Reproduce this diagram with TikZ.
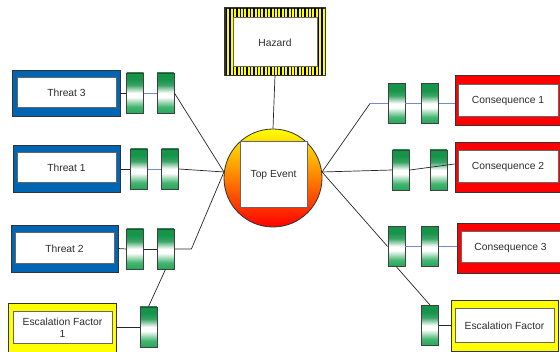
\documentclass[tikz,border=0pt]{standalone}
\usepackage{fontspec}
\setmainfont{Liberation Sans}
\usepackage{xcolor}

\definecolor{threatblue}{RGB}{0,102,179}
\definecolor{consred}{RGB}{255,0,0}
\definecolor{escyellow}{RGB}{255,255,0}
\definecolor{bgtop}{RGB}{22,148,74}
\definecolor{bgbot}{RGB}{36,168,88}
\definecolor{linkblue}{RGB}{112,140,210}
\definecolor{txtgray}{RGB}{45,45,45}

\pgfdeclareverticalshading{barriershade}{100bp}{color(0bp)=(bgbot); color(25bp)=(bgbot);
  color(33bp)=(bgbot!85); color(45bp)=(white); color(50bp)=(white); color(60bp)=(bgtop!85);
  color(67bp)=(bgtop); color(100bp)=(bgtop)}

\begin{document}
\begin{tikzpicture}[x=1pt,y=-1pt,
  frame/.style={draw=black!80, line width=0.8pt, inner sep=0pt},
  inbox/.style={draw=black!60, line width=1pt, fill=white, inner sep=0pt, text=txtgray,
    font=\fontsize{10.3}{12}\selectfont, align=center},
  barrier/.style={draw=black!75, line width=0.8pt, minimum width=17pt, minimum height=40pt,
    inner sep=0pt, shade, shading=barriershade},
  link/.style={draw=black!85, line width=0.7pt},
  blink/.style={draw=linkblue, line width=0.8pt}]
\useasboundingbox (0,0) rectangle (560,352);

% hazard box with the striped frame
\node[frame, fill=escyellow, minimum width=100pt, minimum height=67pt] (hazard) at (275,41.5) {};
\begin{scope}
\clip (hazard.south west) rectangle (hazard.north east);
\foreach \i in {0,...,29}
  \fill[black] (225.9+\i*3.4,8) rectangle ++(1.5,67);
\end{scope}
\draw[black!80, line width=0.8pt] (hazard.south west) rectangle (hazard.north east);
\node[inbox, minimum width=84pt, minimum height=49pt] (hazardin) at (275,42.5) {Hazard};

% top event
\node[circle, draw=black!80, line width=0.8pt, minimum size=98pt, inner sep=0pt,
  top color=yellow, bottom color=red] (topevent) at (273,178) {};
\node[inbox, minimum width=67pt, minimum height=66pt] (topeventin) at (273.5,175) {Top Event};

% threats
\node[frame, fill=threatblue, minimum width=108pt, minimum height=46pt] (t3) at (66,93) {};
\node[inbox, minimum width=99pt, minimum height=30pt] (t3in) at (66.5,93) {Threat 3};
\node[frame, fill=threatblue, minimum width=107pt, minimum height=47pt] (t1) at (66.5,168.5) {};
\node[inbox, minimum width=99pt, minimum height=30pt] (t1in) at (66.5,168) {Threat 1};
\node[frame, fill=threatblue, minimum width=107pt, minimum height=47pt] (t2) at (64.5,248.5) {};
\node[inbox, minimum width=99pt, minimum height=31pt] (t2in) at (64.5,248.5) {Threat 2};
\node[frame, fill=escyellow, minimum width=108pt, minimum height=49pt] (e1) at (62,327.5) {};
\node[inbox, minimum width=99pt, minimum height=32pt] (e1in) at (62.5,328) {Escalation Factor\\1};

% consequences
\node[frame, fill=consred, minimum width=106pt, minimum height=50pt] (c1) at (508,100) {};
\node[inbox, minimum width=100pt, minimum height=32pt] (c1in) at (508,101) {Consequence 1};
\node[frame, fill=consred, minimum width=106pt, minimum height=50pt] (c2) at (508,167) {};
\node[inbox, minimum width=100pt, minimum height=32pt] (c2in) at (508,167) {Consequence 2};
\node[frame, fill=consred, minimum width=107pt, minimum height=50pt] (c3) at (510.5,248) {};
\node[inbox, minimum width=99pt, minimum height=31pt] (c3in) at (510.5,247.5) {Consequence 3};
\node[frame, fill=escyellow, minimum width=107pt, minimum height=51pt] (e2) at (504.5,325.5) {};
\node[inbox, minimum width=99pt, minimum height=34pt] (e2in) at (504.5,326) {Escalation Factor};

% barriers
\node[barrier] (b31) at (135,93) {};
\node[barrier] (b32) at (165.5,93) {};
\node[barrier] (b11) at (139,169) {};
\node[barrier] (b12) at (170,169) {};
\node[barrier] (b21) at (135,249) {};
\node[barrier] (b22) at (165.5,249) {};
\node[barrier] (eb1) at (148.5,327) {};
\node[barrier] (c11) at (396.5,103.5) {};
\node[barrier] (c12) at (430,103.5) {};
\node[barrier] (c21) at (401,170) {};
\node[barrier] (c22) at (438.5,170) {};
\node[barrier] (c31) at (396.5,246.5) {};
\node[barrier] (c32) at (430,246.5) {};
\node[barrier] (e2b) at (430,325.5) {};

\coordinate (k1) at (370,103.5);

% connectors
\draw[link] (hazard.south) -- (topevent.north);
\draw[link] (t3.east) -- (b31.west);
\draw[blink] (b31.east) -- (b32.west);
\draw[link] (b32.east) -- (topevent.173);
\draw[link] (t1.east |- b11.west) -- (b11.west);
\draw[blink] (b11.east) -- (b12.west);
\draw[link] (b12.east) -- (topevent.173);
\draw[link] (t2.east) -- (b21.west);
\draw[link] (b21.east) -- (b22.west);
\draw[link] (b22.east) -- ++(17,0) -- (topevent.173);
\draw[link] (e1.east |- eb1.west) -- (eb1.west);
\draw[link] (eb1.north) -- (b22.south);

\draw[link] (topevent.7) -- (k1);
\draw[blink] (k1) -- (c11.west);
\draw[blink] (c11.east) -- (c12.west);
\draw[blink] (c12.east) -- (c12.east -| c1.west);
\draw[link] (topevent.7) -- (c21.west);
\draw[link] (c21.east) -- ([yshift=3pt]c2.west);
\draw[link] (topevent.7) -- (c31.west);
\draw[blink] (c31.east) -- (c32.west);
\draw[blink] (c32.east) -- (c32.east -| c3.west);
\draw[link] (c31.south) -- (e2b.north);
\draw[link] (e2b.east) -- (e2b.east -| e2.west);
\end{tikzpicture}
\end{document}
